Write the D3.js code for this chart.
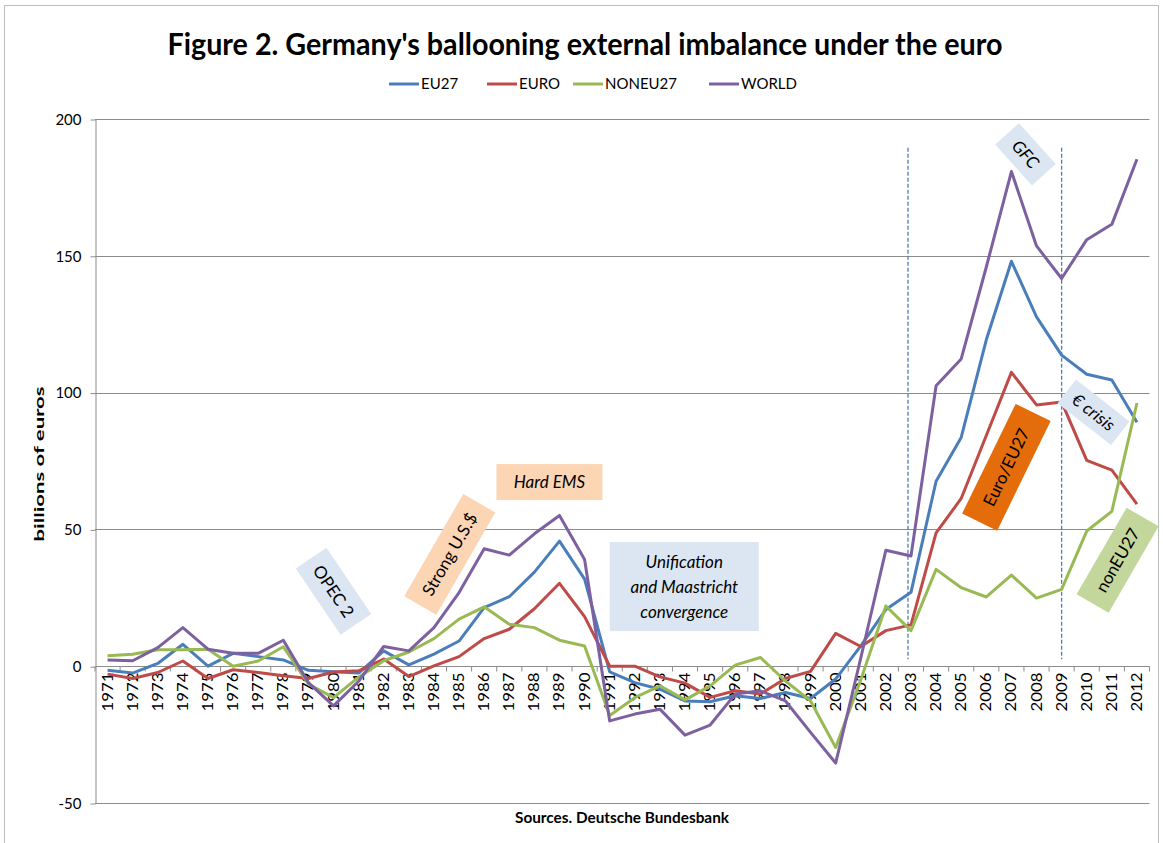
<!DOCTYPE html>
<html>
<head>
<meta charset="utf-8">
<script src="https://cdn.jsdelivr.net/npm/d3@7"></script>
<style>
    body { margin: 0; background: #fff; }
    text { font-family: Lato, "Open Sans", sans-serif; fill: #000; }
</style>
</head>
<body>
<div id="chart"></div>
<script>
// categories
const years = [1971, 1972, 1973, 1974, 1975, 1976, 1977, 1978, 1979, 1980, 1981,
    1982, 1983, 1984, 1985, 1986, 1987, 1988, 1989, 1990,
    1991, 1992, 1993, 1994, 1995, 1996, 1997, 1998, 1999, 2000,
    2001, 2002, 2003, 2004, 2005, 2006, 2007, 2008, 2009, 2010, 2011, 2012];

// billions of euros
const eu27 = [-1.5, -2.5, 1, 8, 0, 4.7, 3.5, 2.3, -1.5, -2, -2.5,
    5.6, 0.5, 4.4, 9.2, 21.4, 25.4, 34.4, 45.7, 31.8,
    -2.1, -6, -8.4, -12.7, -13, -10.8, -11.8, -9.6, -11.8, -4.7,
    7.4, 20.7, 27, 67.6, 83.6, 119.3, 148, 127.7, 113.7, 106.7, 104.6, 89.2];
const euro = [-2.9, -4.5, -2.3, 1.9, -4.5, -1.3, -2.3, -3.5, -4.5, -2.1, -1.7,
    2.6, -3.8, 0.1, 3.5, 10.1, 13.5, 21, 30.3, 18.1,
    0, 0, -3.9, -6.2, -11.4, -9, -10.2, -4.5, -1.9, 12,
    7.2, 13, 15.1, 48.7, 61.3, 84.3, 107.4, 95.5, 96.6, 75.2, 71.7, 59.2];
const noneu27 = [3.8, 4.4, 6, 6, 6.2, 0, 1.9, 7.1, -6.5, -11.5, -4,
    2, 5.2, 10.1, 17.2, 21.7, 15.3, 14.1, 9.5, 7.4,
    -18, -11.5, -7.2, -12.3, -7.2, 0.4, 3.2, -5.4, -12.7, -29.7,
    -5, 22, 13, 35.4, 28.7, 25.3, 33.3, 24.9, 28.1, 49.4, 56.6, 96.2];
const world = [2.3, 2, 6.8, 14.1, 6.2, 4.7, 4.7, 9.5, -6, -14.5, -5.5,
    7.2, 5.6, 14.1, 26.9, 42.9, 40.6, 48.4, 55.1, 39,
    -20, -17.5, -15.7, -25.2, -21.5, -10.2, -9, -12.7, -24.2, -35.4,
    3, 42.4, 40.3, 102.5, 112.3, 145.9, 180.8, 153.6, 141.7, 155.9, 161.5, 185.3];

const seriesNames = ['EU27', 'EURO', 'NONEU27', 'WORLD'];
const seriesColors = ['#4a7ebb', '#be4b48', '#98b954', '#7d60a0'];
const yTicks = [-50, 0, 50, 100, 150, 200];

// marker years for the dashed lines
const markerYears = [2003, 2009];

// annotation boxes: text lines, anchor year/value, box size, angle
const notes = [
    { lines: ['OPEC 2'], year: 1980, value: 27.4, w: 80, h: 37, rot: 56, fill: '#dce6f2', italic: false },
    { lines: ['Strong U.S.$'], year: 1984.63, value: 40.9, w: 118, h: 37, rot: -60, fill: '#fcd5b5', italic: false },
    { lines: ['Hard EMS'], year: 1988.6, value: 67.3, w: 106, h: 36, rot: 0, fill: '#fcd5b5', italic: true },
    { lines: ['Unification', 'and Maastricht', 'convergence'], year: 1993.97, value: 29.1, w: 149, h: 89, rot: 0, fill: '#dce6f2', italic: true },
    { lines: ['GFC'], year: 2007.56, value: 187.1, w: 55, h: 32, rot: 48, fill: '#dce6f2', italic: true },
    { lines: ['€ crisis'], year: 2010.27, value: 92.8, w: 68, h: 30, rot: 38, fill: '#dce6f2', italic: true },
    { lines: ['Euro/EU27'], year: 2006.8, value: 72.7, w: 122, h: 39, rot: -64, fill: '#e46c0a', italic: false },
    { lines: ['nonEU27'], year: 2011.23, value: 38.7, w: 100, h: 37, rot: -60, fill: '#c3d69b', italic: false }
];

const svgWidth = 1163, svgHeight = 843;
const plotLeft = 95, plotRight = 1149.5, plotTop = 119, plotBottom = 803;

let svg = d3.select('#chart').append('svg')
    .attr('width', svgWidth)
    .attr('height', svgHeight);

// outer frame
svg.append('rect')
    .attr('x', 4.5).attr('y', 5.5)
    .attr('width', 1154).attr('height', 860)
    .attr('fill', '#fff')
    .attr('stroke', '#bcbcbc');

let x = d3.scaleBand()
    .domain(years)
    .range([plotLeft, plotRight]);
let xc = (d) => x(d) + x.bandwidth() / 2;
// for positioning things between categories
let xLin = d3.scaleLinear()
    .domain([years[0], years[years.length - 1]])
    .range([xc(years[0]), xc(years[years.length - 1])]);

let y = d3.scaleLinear()
    .domain([-50, 200])
    .range([plotBottom, plotTop]);

// gridlines
svg.append('g')
    .selectAll('line')
    .data(yTicks)
    .enter()
    .append('line')
    .attr('x1', plotLeft).attr('x2', plotRight)
    .attr('y1', (d) => Math.round(y(d)) + 0.5)
    .attr('y2', (d) => Math.round(y(d)) + 0.5)
    .attr('stroke', '#8c8c8c')
    .attr('stroke-width', 1);

// y axis
let yAxis = svg.append('g')
    .attr('transform', `translate(${plotLeft + 0.5},0.5)`)
    .call(d3.axisLeft(y).tickValues(yTicks).tickFormat((d) => String(d))
        .tickSize(5).tickPadding(9).tickSizeOuter(0));
yAxis.select('.domain').attr('stroke', '#8c8c8c');
yAxis.selectAll('.tick line').attr('stroke', '#8c8c8c');
yAxis.selectAll('.tick text')
    .style('font-size', '15px')
    .style('font-family', 'Lato, sans-serif')
    .attr('fill', '#000');

// x axis along zero
let x0 = Math.round(y(0)) + 0.5;
svg.append('g')
    .selectAll('line')
    .data(years.concat(['end']))
    .enter()
    .append('line')
    .attr('x1', (d) => d === 'end' ? plotRight : x(d))
    .attr('x2', (d) => d === 'end' ? plotRight : x(d))
    .attr('y1', x0).attr('y2', x0 + 5)
    .attr('stroke', '#8c8c8c');

svg.append('g')
    .selectAll('text')
    .data(years)
    .enter()
    .append('text')
    .text((d) => d)
    .attr('transform', (d) => `translate(${xc(d) + 5},${x0 + 6}) rotate(-90)`)
    .attr('text-anchor', 'end')
    .attr('textLength', 39)
    .attr('lengthAdjust', 'spacingAndGlyphs')
    .style('font-size', '15px');

// dashed markers
svg.append('g')
    .selectAll('line')
    .data(markerYears)
    .enter()
    .append('line')
    .attr('x1', (d, i) => xc(d) - (i === 0 ? 3 : 0))
    .attr('x2', (d, i) => xc(d) - (i === 0 ? 3 : 0))
    .attr('y1', y(189.5))
    .attr('y2', y(2.5))
    .attr('stroke', '#4a7ebb')
    .attr('stroke-width', 1.3)
    .attr('stroke-dasharray', '4,2');

// series lines
let allSeries = [eu27, euro, noneu27, world];
let line = d3.line()
    .x((d, i) => xc(years[i]))
    .y((d) => y(d));

svg.append('g')
    .selectAll('path')
    .data(allSeries)
    .enter()
    .append('path')
    .attr('d', (d) => line(d))
    .attr('fill', 'none')
    .attr('stroke', (d, i) => seriesColors[i])
    .attr('stroke-width', 3)
    .attr('stroke-linejoin', 'round');

// annotation boxes
let noteG = svg.append('g')
    .selectAll('g')
    .data(notes)
    .enter()
    .append('g')
    .attr('transform', (d) => `translate(${xLin(d.year)},${y(d.value)}) rotate(${d.rot})`);

noteG.append('rect')
    .attr('x', (d) => -d.w / 2)
    .attr('y', (d) => -d.h / 2)
    .attr('width', (d) => d.w)
    .attr('height', (d) => d.h)
    .attr('fill', (d) => d.fill);

noteG.each(function(d) {
    let g = d3.select(this);
    let n = d.lines.length;
    d.lines.forEach((t, j) => {
        g.append('text')
            .text(t)
            .attr('x', 0)
            .attr('y', (j - (n - 1) / 2) * 25)
            .attr('dy', '0.35em')
            .attr('text-anchor', 'middle')
            .style('font-size', '17px')
            .style('font-style', d.italic ? 'italic' : 'normal');
    });
});

// title
svg.append('text')
    .text("Figure 2. Germany's ballooning external imbalance under the euro")
    .attr('x', 585)
    .attr('y', 55)
    .attr('text-anchor', 'middle')
    .attr('textLength', 835)
    .attr('lengthAdjust', 'spacingAndGlyphs')
    .style('font-size', '30px')
    .style('font-weight', 'bold');

// legend
let legendX = [389, 487, 573, 709];
let legend = svg.append('g')
    .selectAll('g')
    .data(seriesNames)
    .enter()
    .append('g')
    .attr('transform', (d, i) => `translate(${legendX[i]},84)`);
legend.append('line')
    .attr('x1', 0).attr('x2', 30)
    .attr('stroke', (d, i) => seriesColors[i])
    .attr('stroke-width', 3);
legend.append('text')
    .text((d) => d)
    .attr('x', 32)
    .attr('dy', '0.35em')
    .style('font-size', '15px');

// axis titles
svg.append('text')
    .text('billions of euros')
    .attr('transform', `translate(44,${(plotTop + plotBottom) / 2 + 3}) rotate(-90)`)
    .attr('text-anchor', 'middle')
    .attr('textLength', 155)
    .attr('lengthAdjust', 'spacingAndGlyphs')
    .style('font-size', '14px')
    .style('font-weight', 'bold');

svg.append('text')
    .text('Sources. Deutsche Bundesbank')
    .attr('x', 622)
    .attr('y', 823)
    .attr('text-anchor', 'middle')
    .attr('textLength', 214)
    .attr('lengthAdjust', 'spacingAndGlyphs')
    .style('font-size', '14.5px')
    .style('font-weight', 'bold');
</script>
</body>
</html>
